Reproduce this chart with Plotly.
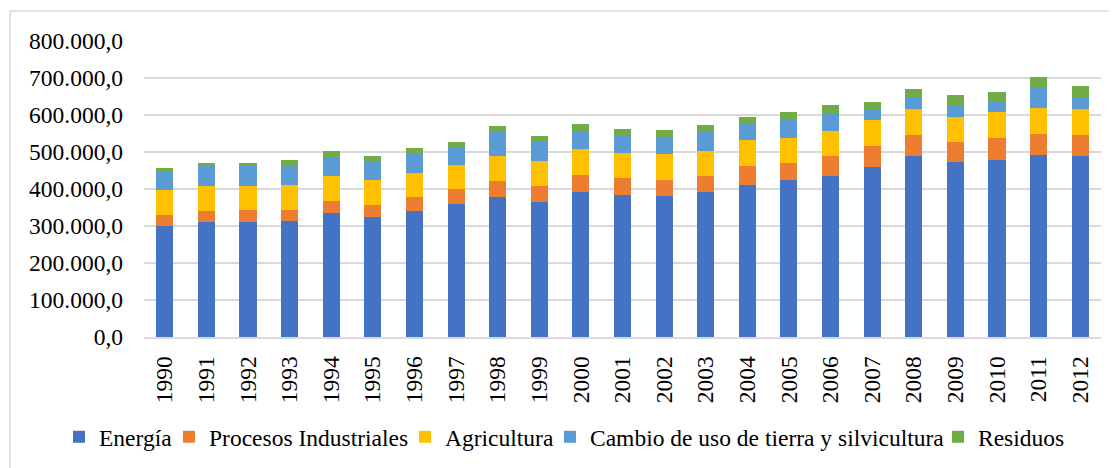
import plotly.graph_objects as go

years = [str(y) for y in range(1990, 2013)]

energia = [300000, 311000, 311000, 313500, 335000, 325400, 341700, 359500, 379000, 365700,
           392000, 383000, 381000, 391000, 411700, 424400, 435200, 460300, 490000, 472200,
           477600, 492800, 490000]
procesos = [29000, 29600, 31500, 29500, 32600, 32500, 36700, 40500, 42000, 43300,
            46700, 47600, 44000, 45000, 51300, 46600, 54000, 56000, 56800, 54100,
            61100, 56700, 56800]
agricultura = [67500, 68400, 66500, 68000, 68400, 65700, 66000, 66000, 67500, 67500,
               68600, 67400, 68800, 67600, 69500, 67700, 68400, 69400, 69500, 69200,
               69500, 69500, 69500]
cambio = [52200, 53000, 53000, 52000, 51600, 52100, 51300, 46000, 64900, 49500,
          50300, 47000, 46000, 49700, 42500, 48700, 46000, 27100, 28700, 30800,
          27000, 54000, 30500]
residuos = [8100, 7500, 8000, 14600, 14400, 14300, 15200, 16000, 16200, 16500,
            17400, 17000, 18900, 18700, 19700, 20600, 23400, 23200, 26000, 27000,
            27000, 30600, 30800]

series_names = ["Energía", "Procesos Industriales", "Agricultura",
                "Cambio de uso de tierra y silvicultura", "Residuos"]
series_values = [energia, procesos, agricultura, cambio, residuos]
series_colors = ["#4472C4", "#ED7D31", "#FFC000", "#5B9BD5", "#70AD47"]

yticks = [0, 100000, 200000, 300000, 400000, 500000, 600000, 700000, 800000]
ytext = ["0,0", "100.000,0", "200.000,0", "300.000,0", "400.000,0",
         "500.000,0", "600.000,0", "700.000,0", "800.000,0"]

# page body has an 8px margin: work in figure coords = page coords - OFF
OFF = 8
W, H = 1117 - OFF, 468 - OFF
plot_left, plot_right, plot_top, plot_bottom = 144 - OFF, 1101 - OFF, 41 - OFF, 337 - OFF
ml, mr, mt, mb = plot_left, W - plot_right, plot_top, H - plot_bottom
pw, ph = W - ml - mr, H - mt - mb

# legend text start positions (page pixels) in the reference layout
legend_text_x = [99, 209, 445, 590, 978]
legend_y = 437 - OFF

FONT = "Liberation Serif, Times New Roman, serif"
FS = 23.5
fig = go.Figure()
legend_layouts = {}
for i, (name, vals, col) in enumerate(zip(series_names, series_values, series_colors)):
    lname = "legend" if i == 0 else f"legend{i + 1}"
    fig.add_trace(go.Bar(x=years, y=vals, name=name, legend=lname,
                         marker=dict(color=col, line=dict(width=0))))
    legend_layouts[lname] = dict(
        orientation="h", xref="container", yref="container",
        x=(legend_text_x[i] - OFF - 40) / W, xanchor="left",
        y=(H - legend_y) / H, yanchor="middle",
        font=dict(family=FONT, size=FS, color="#000000"),
        bgcolor="rgba(0,0,0,0)", itemwidth=30,
    )

fig.update_layout(
    width=W, height=H,
    barmode="stack",
    bargap=0.59,
    margin=dict(l=ml, r=mr, t=mt, b=mb, pad=0, autoexpand=False),
    paper_bgcolor="white", plot_bgcolor="white",
    font=dict(family=FONT, size=FS, color="#000000"),
    showlegend=True,
    xaxis=dict(type="category", tickangle=-90, showgrid=False, showline=True,
               linecolor="#D9D9D9", linewidth=1.5, ticks="", ticklabelstandoff=8,
               automargin=False, tickfont=dict(size=FS)),
    yaxis=dict(range=[0, 800000], tickvals=yticks, ticktext=ytext, showgrid=True,
               gridcolor="#D9D9D9", gridwidth=1.5, zeroline=False, showline=False,
               ticks="", ticklabelstandoff=20, automargin=False, tickfont=dict(size=FS)),
    shapes=[dict(type="rect", xref="paper", yref="paper",
                 x0=(10 - OFF - ml) / pw, x1=(W + 20 - ml) / pw,
                 y0=(plot_bottom - (H + 20)) / ph, y1=(plot_bottom - (11 - OFF)) / ph,
                 line=dict(color="#D9D9D9", width=1.5), fillcolor="rgba(0,0,0,0)",
                 layer="below")],
    **legend_layouts,
)

fig.write_html("out.html")
